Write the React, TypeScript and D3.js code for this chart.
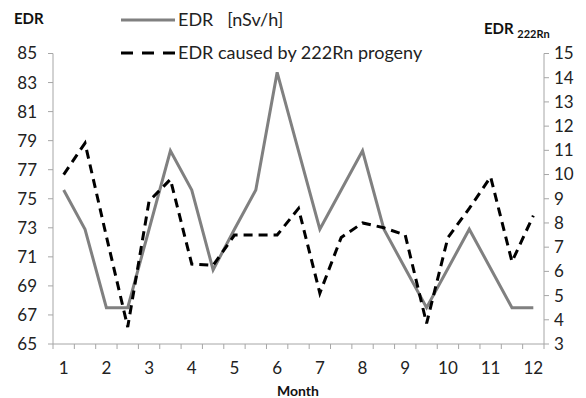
import React from "react";
import * as d3 from "d3";

const monthLabels = ["1", "2", "3", "4", "5", "6", "7", "8", "9", "10", "11", "12"];
// half-month positions: 1, 1.5, 2, ... 12
const edr = [75.6, 72.9, 67.5, 67.5, 72.9, 78.3, 75.6, 70.1, 72.9, 75.6, 83.7, 78.3, 72.9, 75.6, 78.3, 72.9, 70.2, 67.5, 70.2, 72.9, 70.2, 67.5, 67.5];
const edrRn = [10.0, 11.3, 7.45, 3.7, 8.9, 9.8, 6.3, 6.25, 7.5, 7.5, 7.5, 8.6, 5.1, 7.4, 8.0, 7.8, 7.5, 3.85, 7.4, 8.6, 9.9, 6.4, 8.3];
const leftTicks = [65, 67, 69, 71, 73, 75, 77, 79, 81, 83, 85];
const rightTicks = [3, 4, 5, 6, 7, 8, 9, 10, 11, 12, 13, 14, 15];

export default function App() {
  const W = 586, H = 398;
  const x0 = 53, x1 = 544, yTop = 53.5, yBot = 344;
  const idx = edr.map((_, i) => i);
  const x = d3.scaleBand<number>().domain(idx).range([x0, x1]).padding(0);
  const cx = (i: number) => (x(i) as number) + x.bandwidth() / 2;
  const yL = d3.scaleLinear().domain([65, 85]).range([yBot, yTop]);
  const yR = d3.scaleLinear().domain([3, 15]).range([yBot, yTop]);
  const lineL = d3.line<number>().x((_, i) => cx(i)).y((d) => yL(d));
  const lineR = d3.line<number>().x((_, i) => cx(i)).y((d) => yR(d));
  const axisColor = "#a6a6a6";
  const font = "Lato, 'Open Sans', sans-serif";
  const boundaries = d3.range(idx.length + 1).map((k) => x0 + k * x.bandwidth());

  return (
    <svg width={W} height={H} style={{ position: "absolute", left: 0, top: 0, background: "#fff" }} fontFamily={font}>
      {/* axes */}
      <line x1={x0} x2={x0} y1={yTop} y2={yBot} stroke={axisColor} strokeWidth={1} />
      <line x1={x1} x2={x1} y1={yTop} y2={yBot} stroke={axisColor} strokeWidth={1} />
      <line x1={x0} x2={x1} y1={yBot} y2={yBot} stroke={axisColor} strokeWidth={1} />
      {leftTicks.map((t) => (
        <g key={"l" + t}>
          <line x1={x0 - 5} x2={x0} y1={yL(t)} y2={yL(t)} stroke={axisColor} />
          <text x={37} y={yL(t)} dy="0.35em" textAnchor="end" fontSize={17} fill="#222">{t}</text>
        </g>
      ))}
      {rightTicks.map((t) => (
        <g key={"r" + t}>
          <line x1={x1} x2={x1 + 5} y1={yR(t)} y2={yR(t)} stroke={axisColor} />
          <text x={554} y={yR(t)} dy="0.35em" textAnchor="start" fontSize={17} fill="#222">{t}</text>
        </g>
      ))}
      {boundaries.map((b, k) => (
        <line key={"b" + k} x1={b} x2={b} y1={yBot} y2={yBot + 5} stroke={axisColor} />
      ))}
      {monthLabels.map((m, k) => (
        <text key={"m" + m} x={cx(k * 2)} y={368} dy="0.35em" textAnchor="middle" fontSize={17} fill="#222">{m}</text>
      ))}
      <text x={298} y={391} dy="0.35em" textAnchor="middle" fontSize={14} fontWeight="bold" fill="#111">Month</text>
      <text x={14} y={19} dy="0.35em" fontSize={15} fontWeight="bold" fill="#111">EDR</text>
      <text x={484} y={29} dy="0.35em" fontSize={15} fontWeight="bold" fill="#111">
        EDR <tspan fontSize={11} dy="4">222Rn</tspan>
      </text>

      {/* series */}
      <path d={lineL(edr) ?? ""} fill="none" stroke="#808080" strokeWidth={3} strokeLinejoin="miter" />
      <path d={lineR(edrRn) ?? ""} fill="none" stroke="#000" strokeWidth={3} strokeDasharray="9,6" />

      {/* legend */}
      <line x1={121} x2={175} y1={20} y2={20} stroke="#808080" strokeWidth={3} />
      <text x={178} y={20} dy="0.35em" fontSize={18} fill="#222" style={{ whiteSpace: "pre" }}>EDR   [nSv/h]</text>
      <line x1={121} x2={175} y1={53} y2={53} stroke="#000" strokeWidth={3} strokeDasharray="12,9" />
      <text x={178} y={53} dy="0.35em" fontSize={18} fill="#222">EDR caused by 222Rn progeny</text>
    </svg>
  );
}
